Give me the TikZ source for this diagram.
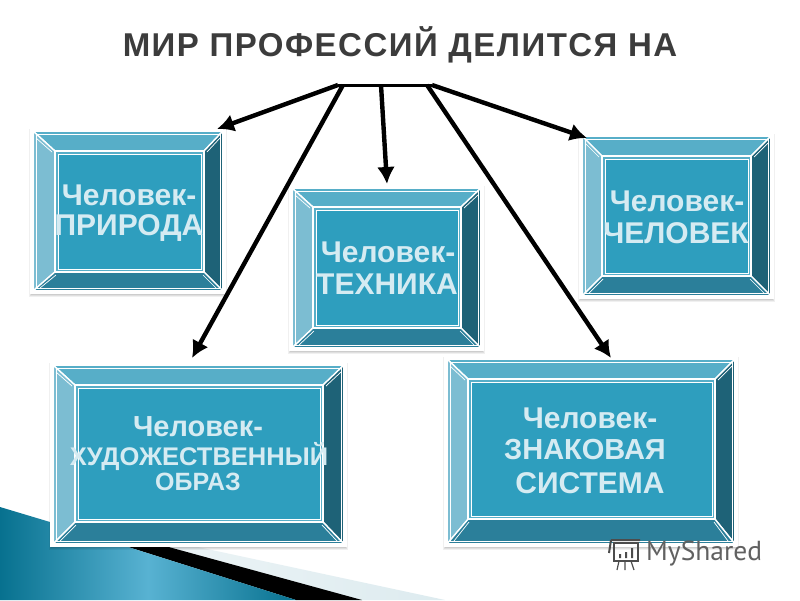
\documentclass[tikz,border=0pt]{standalone}
\usepackage{fontspec}
\setmainfont{Liberation Sans}
\newfontfamily\logofont{PT Sans}
\usetikzlibrary{calc,arrows.meta}
\definecolor{facec}{HTML}{2E9EBE}
\definecolor{topc}{HTML}{57AEC8}
\definecolor{leftc}{HTML}{7CBDD2}
\definecolor{rightc}{HTML}{1E6277}
\definecolor{botc}{HTML}{2B7F9A}
\definecolor{labelc}{HTML}{D5EBF2}
\definecolor{titlec}{HTML}{3C3C3C}
\definecolor{tealdark}{HTML}{07718F}
\definecolor{teallight}{HTML}{58B2D2}
\definecolor{bandc}{HTML}{DDEBEF}
\tikzset{
  x=1pt,y=-1pt,
  outerbox/.style={inner sep=0pt,outer sep=0pt,draw=none},
  facet/.style={draw=white,line width=1.4pt,line join=round},
  fineline/.style={draw=white,line width=0.7pt},
  lab/.style={inner sep=0pt,font=\bfseries\fontsize{30}{30}\selectfont,text=labelc},
  arrowline/.style={line width=4.4pt,-{Latex[length=17pt,width=18pt]},draw=black},
}
% #1 name, #2 x1, #3 y1, #4 x2, #5 y2 (outer), #6 x1, #7 y1, #8 x2, #9 y2 (inner)
\newcommand{\bevelbox}[9]{%
  \foreach \s/\o in {5/0.06,4/0.07,3/0.08,2/0.09}{%
    \fill[black,opacity=\o] (#2-\s+1,#3-\s+3) rectangle (#4+\s-1,#5+\s+1);}
  \fill[white] (#2-3,#3-3) rectangle (#4+3,#5+3);
  \path let \n1={(#2+#4)/2},\n2={(#3+#5)/2},\n3={abs(#4-#2)},\n4={abs(#5-#3)} in
    node[outerbox,minimum width=\n3,minimum height=\n4] (#1) at (\n1,\n2) {};
  \path let \n1={(#6+#8)/2},\n2={(#7+#9)/2},\n3={abs(#8-#6)},\n4={abs(#9-#7)} in
    node[outerbox,minimum width=\n3,minimum height=\n4] (#1i) at (\n1,\n2) {};
  \filldraw[facet,fill=topc] (#1.north west) -- (#1.north east) -- (#1i.north east) -- (#1i.north west) -- cycle;
  \filldraw[facet,fill=leftc] (#1.north west) -- (#1i.north west) -- (#1i.south west) -- (#1.south west) -- cycle;
  \filldraw[facet,fill=rightc] (#1.north east) -- (#1.south east) -- (#1i.south east) -- (#1i.north east) -- cycle;
  \filldraw[facet,fill=botc] (#1.south west) -- (#1.south east) -- (#1i.south east) -- (#1i.south west) -- cycle;
  \draw[white,line width=2pt] (#1.north west) rectangle (#1.south east);
  \draw[fineline] (#2+3,#3+3) rectangle (#4-3,#5-3);
  \draw[fineline] (#2+3,#3+7) -- (#6-4,#7+0) (#4-3,#3+7) -- (#8+4,#7+0) (#2+7,#5-3) -- (#6+0,#9+4) (#4-7,#5-3) -- (#8+0,#9+4);
  \draw[white,line width=2.2pt] (#6-1,#7-1) rectangle (#8+1,#9+1);
  \fill[topc] (#6,#7) rectangle (#8,#9);
  \draw[white,line width=0.8pt,fill=facec] (#6+2,#7+2) rectangle (#8-2,#9-2);
}
\begin{document}
\begin{tikzpicture}
\useasboundingbox (0,0) rectangle (800,600);
\fill[white] (0,0) rectangle (800,600);
% background swoosh
\path[left color=white!50!bandc,right color=bandc] (165,540) -- (445,600) -- (360,600) -- (128,546) -- cycle;
\fill[black] (125,546) -- (165,546) -- (362,600) -- (296,600) -- cycle;
\path[left color=tealdark,right color=tealdark,middle color=teallight] (0,507) -- (60,525) -- (125,546) -- (296,600) -- (0,600) -- cycle;
\node[inner sep=0pt,font=\bfseries\fontsize{33}{33}\selectfont\addfontfeature{LetterSpace=4.5},text=titlec] (title) at (400,45) {МИР ПРОФЕССИЙ ДЕЛИТСЯ НА};
\bevelbox{a}{33}{131}{223}{291}{56}{152}{203}{271}
\bevelbox{b}{292}{188}{481}{348}{314}{208}{460}{327}
\bevelbox{c}{582}{136}{771}{296}{603}{157}{750}{275}
\bevelbox{d}{53}{365}{344}{544}{76}{386}{322}{521}
\bevelbox{e}{447}{359}{735}{544}{469}{380}{714}{518}
\node[lab] (a1) at (129,195) {Человек-};
\node[lab] (a2) at (129,228) {ПРИРОДА};
\node[lab] (b1) at (388,252) {Человек-};
\node[lab] (b2) at (387,284) {ТЕХНИКА};
\node[lab] (c1) at (677,201) {Человек-};
\node[lab] (c2) at (676,233) {ЧЕЛОВЕК};
\node[lab,font=\bfseries\fontsize{29}{29}\selectfont] (d1) at (198,427) {Человек-};
\node[lab,font=\bfseries\fontsize{25.5}{25.5}\selectfont] (d2) at (199,456) {ХУДОЖЕСТВЕННЫЙ};
\node[lab,font=\bfseries\fontsize{25}{25}\selectfont] (d3) at (198,482) {ОБРАЗ};
\node[lab] (e1) at (590,418) {Человек-};
\node[lab,font=\bfseries\fontsize{29}{29}\selectfont] (e2) at (585,450) {ЗНАКОВАЯ};
\node[lab] (e3) at (590,483) {СИСТЕМА};
% connectors
\coordinate (hubL) at (338,85);
\coordinate (hubA) at (343,85);
\coordinate (hubB) at (381,85);
\coordinate (hubC) at (427,85);
\coordinate (hubD) at (432,85);
\draw[line width=3pt] (hubL) -- (hubD);
\draw[arrowline] (hubL) -- ($(a.north east)+(-6,-2)$);
\draw[arrowline] (hubA) -- ($(d.north west)+(139,-7)$);
\draw[arrowline] (hubB) -- ($(b.north)+(0.5,-4)$);
\draw[arrowline] (hubC) -- ($(e.north west)+(164,-1)$);
\draw[arrowline] (hubD) -- ($(c.north west)+(5,2)$);
% watermark
\node[inner sep=0pt,anchor=west,font=\logofont\fontsize{27.5}{27.5}\selectfont,text=black!62] (logo) at (646,554) {MyShared};
\draw[black!70,line width=1.5pt] (614,543) rectangle (638,561);
\draw[black!70,line width=2pt] (611,540) -- (640,540) (611,540) -- (609,553);
\draw[black!70,line width=1.2pt] (619,561) -- (617,570) (625,561) -- (625,570) (631,561) -- (634,570);
\fill[black!70] (619,554) rectangle (621,558) (625,552) rectangle (627,558) (631,548) rectangle (633,558);
\end{tikzpicture}
\end{document}
